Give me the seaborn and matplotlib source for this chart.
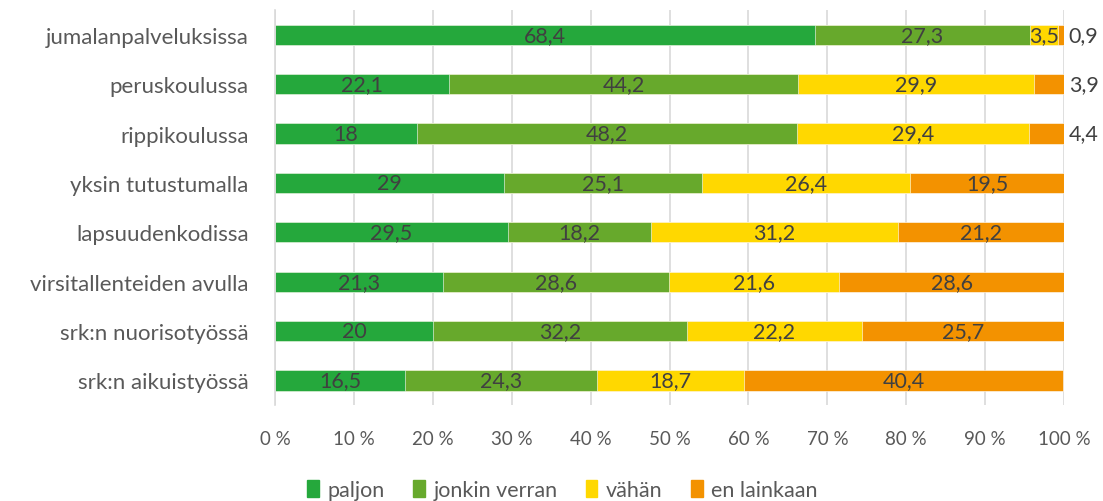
import numpy as np
import pandas as pd
import matplotlib
matplotlib.use("Agg")
import matplotlib.pyplot as plt
import seaborn as sns
from matplotlib.patches import Patch
from matplotlib.ticker import FixedLocator

#---------------------------------
# data
#---------------------------------
categories = ["jumalanpalveluksissa", "peruskoulussa", "rippikoulussa",
              "yksin tutustumalla", "lapsuudenkodissa", "virsitallenteiden avulla",
              "srk:n nuorisotyössä", "srk:n aikuistyössä"]
paljon = [68.4, 22.1, 18, 29, 29.5, 21.3, 20, 16.5]
jonkin_verran = [27.3, 44.2, 48.2, 25.1, 18.2, 28.6, 32.2, 24.3]
vahan = [3.5, 29.9, 29.4, 26.4, 31.2, 21.6, 22.2, 18.7]
en_lainkaan = [0.9, 3.9, 4.4, 19.5, 21.2, 28.6, 25.7, 40.4]
series_names = ["paljon", "jonkin verran", "vähän", "en lainkaan"]
colors = ["#25a83c", "#67a92c", "#ffd800", "#f39200"]
xticks = [0, 10, 20, 30, 40, 50, 60, 70, 80, 90, 100]

df = pd.DataFrame({"cat": categories, "paljon": paljon, "jonkin verran": jonkin_verran,
                   "vähän": vahan, "en lainkaan": en_lainkaan})
cum = df[series_names].cumsum(axis=1)
cum["cat"] = df["cat"]

#---------------------------------
# plot
#---------------------------------
sns.set_style("white")
plt.rcParams["font.family"] = ["Lato", "DejaVu Sans"]

fig = plt.figure(figsize=(11.03, 5.02), dpi=100)
ax = fig.add_axes([0.2493, 0.191, 0.7154, 0.787])

# draw cumulative layers from the back to the front
for name, col in reversed(list(zip(series_names, colors))):
    sns.barplot(data=cum, x=name, y="cat", color=col, width=0.41, ax=ax,
                orient="h", saturation=1, edgecolor="white", linewidth=0.4)

# value labels
txt_col = "#404040"
for i in range(len(categories)):
    left = 0
    for name in series_names:
        v = df.loc[i, name]
        lab = f"{v:g}".replace(".", ",")
        if v < 5 and name == "en lainkaan":
            ax.text(100.6, i, lab, ha="left", va="center", fontsize=15.5, color=txt_col)
        else:
            ax.text(left + v / 2, i, lab, ha="center", va="center", fontsize=15.5, color=txt_col)
        left += v

ax.set_xlim(0, 100)
ax.set_ylim(len(categories) - 0.5, -0.5)
ax.set_xticks(xticks)
ax.set_xticklabels([f"{t} %" for t in xticks], fontsize=13.5, color="#595959")
ax.tick_params(axis="x", length=0, pad=18)
ax.grid(axis="x", color="#d9d9d9", linewidth=1.2)
ax.set_axisbelow(True)
ax.set_xlabel("")
ax.set_ylabel("")
ax.set_yticks(range(len(categories)))
ax.set_yticklabels(categories, fontsize=16, color="#595959")
ax.tick_params(axis="y", which="major", length=0, pad=19)
ax.yaxis.set_minor_locator(FixedLocator(np.arange(-0.5, len(categories), 1)))
ax.tick_params(axis="y", which="minor", length=6, color="#d9d9d9", width=1.2)

for s in ["top", "right", "bottom"]:
    ax.spines[s].set_visible(False)
ax.spines["left"].set_color("#d9d9d9")
ax.spines["left"].set_linewidth(1.2)

handles = [Patch(color=c, label=n) for n, c in zip(series_names, colors)]
fig.legend(handles=handles, loc="center", bbox_to_anchor=(0.51, 0.022), ncol=4,
           frameon=False, fontsize=15.5, handlelength=0.55, handleheight=0.8,
           handletextpad=0.4, columnspacing=1.3, labelcolor="#595959")

fig.savefig("out.png", dpi=100)
